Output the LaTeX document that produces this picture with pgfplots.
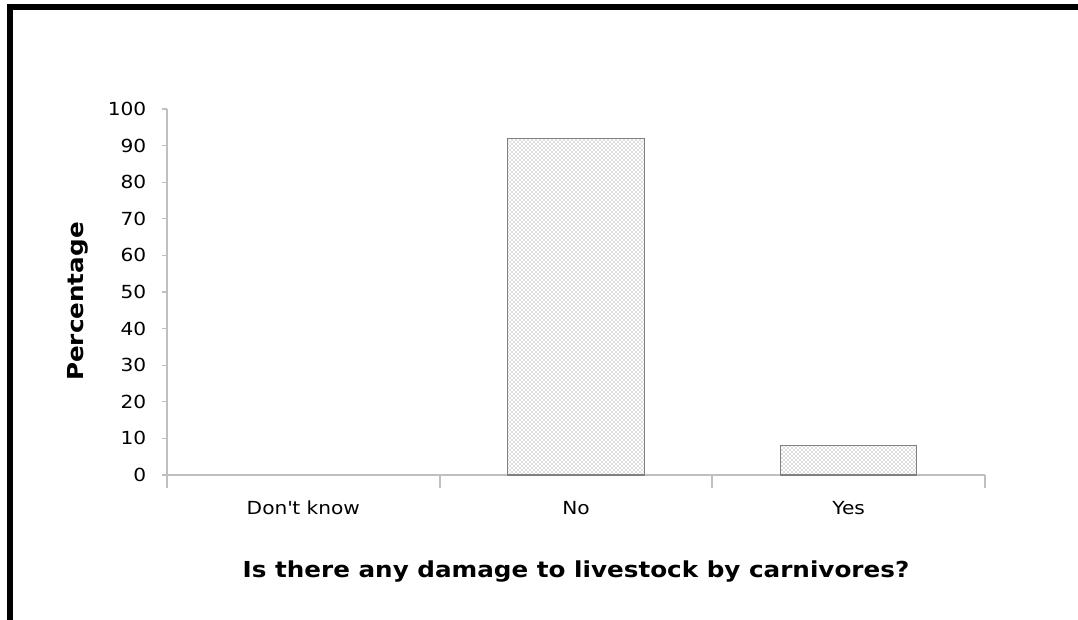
\documentclass[border=0pt]{standalone}
\usepackage{fontspec}
\setmainfont{DejaVu Sans}[FakeStretch=1.12]
\usepackage{pgfplots}
\pgfplotsset{compat=1.18}
\usetikzlibrary{patterns}
\definecolor{axisgray}{RGB}{192,192,192}
\definecolor{bargray}{RGB}{128,128,128}
\begin{document}
\begin{tikzpicture}
\path[use as bounding box] (0,0) rectangle (808.5pt,465pt);
% outer frame (top and left)
\draw[line width=4pt,black] (7.5pt,0pt) -- (7.5pt,459.75pt) -- (808.5pt,459.75pt);
\begin{axis}[
  at={(125.25pt,108.75pt)}, anchor=south west,
  scale only axis, width=613.5pt, height=274.5pt,
  xmin=-0.5, xmax=2.5, ymin=0, ymax=100,
  axis x line=bottom, axis y line=left,
  axis line style={-, axisgray},
  x axis line style={line width=1.6pt},
  y axis line style={line width=0.9pt},
  xtick={0,1,2},
  xticklabels={Don\textquotesingle t know,No,Yes},
  major x tick style={draw=none},
  minor xtick={-0.5,0.5,1.5,2.5},
  minor x tick style={axisgray, line width=1.6pt},
  minor tick length=10pt,
  tick align=center,
  ytick={0,10,...,100},
  major tick length=4pt,
  ytick style={axisgray, line width=0.9pt, xshift=-2pt},
  /pgf/number format/assume math mode=true,
  ticklabel style={font=\fontsize{13.5}{15}\selectfont, text=black},
  yticklabel style={xshift=-10pt},
  xticklabel style={yshift=-12pt},
  xlabel={Is there any damage to livestock by carnivores?},
  ylabel={Percentage},
  label style={font=\bfseries\fontsize{16.5}{18}\selectfont},
  xlabel style={at={(axis description cs:0.5,-0.279)}, anchor=base},
  ylabel style={at={(axis description cs:-0.109,0.474)}, anchor=center},
  ybar, bar width=0.5,
  clip=false,
]
\addplot[draw=bargray, line width=0.8pt, pattern=crosshatch dots, pattern color=gray!85!black]
  coordinates {(1,92) (2,8)};
\end{axis}
\end{tikzpicture}
\end{document}
